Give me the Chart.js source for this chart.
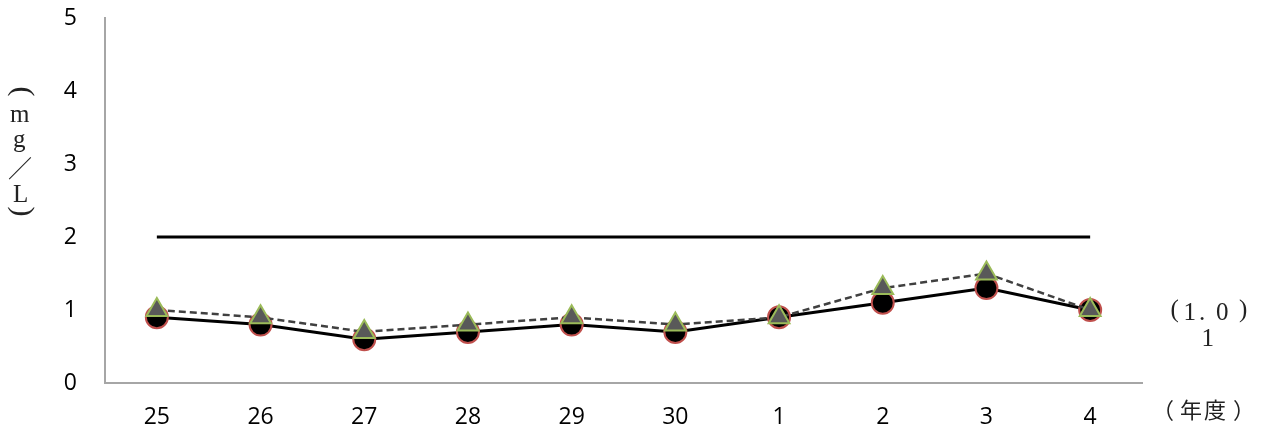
<!DOCTYPE html>
<html>
<head>
<meta charset="utf-8">
<script src="https://cdn.jsdelivr.net/npm/chart.js@4/dist/chart.umd.min.js"></script>
<style>
  html, body { margin: 0; padding: 0; background: #fff; }
  #wrap { width: 1263px; height: 435px; position: relative; }
</style>
</head>
<body>
<div id="wrap"><canvas id="canvasChart"></canvas></div>
<script>
var years = ['25', '26', '27', '28', '29', '30', '1', '2', '3', '4'];
var solidValues = [0.9, 0.8, 0.6, 0.7, 0.8, 0.7, 0.9, 1.1, 1.3, 1.0];
var dashedValues = [1.0, 0.9, 0.7, 0.8, 0.9, 0.8, 0.9, 1.3, 1.5, 1.0];
var standardValues = [2, 2, 2, 2, 2, 2, 2, 2, 2, 2];
var yTicks = [0, 1, 2, 3, 4, 5];

var tickFont = { family: "'Open Sans', 'Liberation Sans', sans-serif", size: 23 };
var serifFont = "'Liberation Serif', serif";
var cjkFont = "'Noto Sans CJK JP', sans-serif";

// draw [char, x, y, font, turn] items with the ink box centred on (x, y);
// turn = true rotates the glyph a quarter turn (for the vertical brackets)
function drawChars(ctx, items) {
    items.forEach(function (it) {
        ctx.save();
        ctx.textAlign = 'left';
        ctx.textBaseline = 'alphabetic';
        ctx.font = it[3];
        var m = ctx.measureText(it[0]);
        var cx = (m.actualBoundingBoxRight - m.actualBoundingBoxLeft) / 2;
        var cy = (m.actualBoundingBoxDescent - m.actualBoundingBoxAscent) / 2;
        ctx.translate(it[1], it[2]);
        if (it[4]) ctx.rotate(Math.PI / 2);
        ctx.fillText(it[0], -cx, -cy);
        ctx.restore();
    });
}

// extra texts: y unit (vertical), right-side note, x unit
var textPlugin = {
    id: 'extraText',
    afterDraw: function (chart) {
        var ctx = chart.ctx;
        ctx.save();
        ctx.fillStyle = '#222';
        drawChars(ctx, [
            ['(', 21, 92, '30px ' + serifFont, true],
            ['m', 20, 116, '25px ' + serifFont],
            ['g', 20, 142, '25px ' + serifFont],
            ['／', 20, 168, '24px ' + cjkFont],
            ['L', 20, 193, '25px ' + serifFont],
            [')', 21, 211, '30px ' + serifFont, true]
        ]);
        drawChars(ctx, [
            ['(', 1175, 311, '25px ' + serifFont],
            ['1', 1190, 311, '25px ' + serifFont],
            ['.', 1202, 318, '25px ' + serifFont],
            ['0', 1222, 311, '25px ' + serifFont],
            [')', 1243, 311, '25px ' + serifFont],
            ['1', 1208, 337, '25px ' + serifFont]
        ]);
        drawChars(ctx, [
            ['（', 1170, 410, '22px ' + cjkFont],
            ['年', 1191, 410, '22px ' + cjkFont],
            ['度', 1215, 410, '22px ' + cjkFont],
            ['）', 1237, 410, '22px ' + cjkFont]
        ]);
        ctx.restore();
    }
};

var canvas = document.getElementById('canvasChart').getContext('2d');

var chartConfig = {
    type: 'line',
    data: {
        labels: years,
        datasets: [{
            label: 'dashed',
            data: dashedValues,
            borderColor: '#404040',
            borderWidth: 2.5,
            borderDash: [7, 4],
            pointStyle: 'triangle',
            pointRadius: 12,
            pointBackgroundColor: '#595959',
            pointBorderColor: '#9bbb59',
            pointBorderWidth: 2,
            fill: false
        }, {
            label: 'solid',
            data: solidValues,
            borderColor: '#000',
            borderWidth: 3,
            pointStyle: 'circle',
            pointRadius: 11,
            pointBackgroundColor: '#000',
            pointBorderColor: '#c0504d',
            pointBorderWidth: 2,
            fill: false
        }, {
            label: 'standard',
            data: standardValues,
            borderColor: '#000',
            borderWidth: 3,
            pointRadius: 0,
            fill: false
        }]
    },
    options: {
        responsive: false,
        animation: false,
        layout: { padding: { top: 18, right: 121, bottom: 0, left: 0 } },
        plugins: {
            legend: { display: false },
            tooltip: { enabled: false }
        },
        scales: {
            x: {
                offset: true,
                grid: { display: false, drawTicks: false },
                border: { color: '#a6a6a6', width: 2 },
                ticks: { color: '#000', font: tickFont, padding: 21, maxRotation: 0 },
                afterFit: function (scale) { scale.height = 52; }
            },
            y: {
                min: 0,
                max: 5,
                grid: { display: false, drawTicks: false },
                border: { color: '#a6a6a6', width: 2 },
                afterBuildTicks: function (scale) {
                    scale.ticks = yTicks.map(function (v) { return { value: v }; });
                },
                ticks: { color: '#000', font: tickFont, padding: 28 },
                afterFit: function (scale) {
                    scale.width = 105;
                    scale.paddingTop = 0;
                    scale.paddingBottom = 0;
                }
            }
        }
    },
    plugins: [textPlugin]
};

var c = document.getElementById('canvasChart');
c.width = 1263;
c.height = 435;
var chartObject = new Chart(canvas, chartConfig);
</script>
</body>
</html>
